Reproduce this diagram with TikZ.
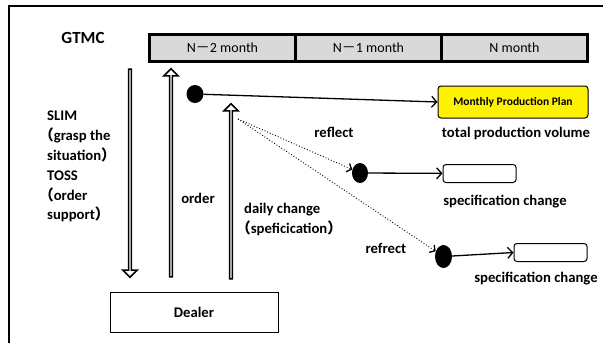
\documentclass[tikz,border=0pt]{standalone}
\usepackage{fontspec}
\setmainfont{Carlito}
\newfontfamily\cjk{Noto Sans CJK JP}
\newcommand{\lpar}{\hspace*{-0.55em}{\cjk （}}
\usetikzlibrary{arrows.meta,shapes.geometric,shapes.arrows}

\begin{document}
\begin{tikzpicture}[x=1pt,y=-1pt,font=\fontsize{14.7}{19.8}\selectfont\bfseries]
        \tikzstyle{month} = [rectangle, draw=black, line width=3pt, fill=gray!30, minimum width=146pt, minimum height=27pt, text centered, font=\fontsize{14}{16}\selectfont\mdseries]
        \tikzstyle{box} = [rectangle, rounded corners=3pt, draw=black, line width=1pt, minimum width=73pt, minimum height=18pt]
        \tikzstyle{dot} = [ellipse, fill=black, inner sep=0pt]
        \tikzstyle{txt} = [inner sep=0pt, anchor=base]
        \tikzstyle{arrow} = [line width=1.3pt, -{Straight Barb[length=5pt,width=11pt]}]
        \tikzstyle{hint} = [line width=0.9pt, dotted, -{Straight Barb[length=4pt,width=9pt,line width=1.3pt]}]
        \tikzstyle{hollow} = [single arrow, draw=black, line width=1.5pt, inner sep=0pt, minimum width=14pt, single arrow head extend=3pt, single arrow head indent=0pt]
        \useasboundingbox (0,0) rectangle (603,343);
        % outer frame
        \draw[line width=2pt] (603,5.5) -- (8.5,5.5) -- (8.5,343);
        \node (gtmc) [txt, font=\fontsize{17}{20}\selectfont\bfseries] at (83,43) {GTMC};
        % months
        \node (n2) [month] at (222.5,47.5) {N{\cjk －}2 month};
        \node (n1) [month] at (368.5,47.5) {N{\cjk －}1 month};
        \node (n0) [month] at (514.5,47.5) {N month};
        \node (sys) [inner sep=0pt, anchor=north west, align=left] at (47,111) {SLIM\\\lpar grasp the\\situation{\cjk ）}\\TOSS\\\lpar order\\support{\cjk ）}};
        \node (dealer) [rectangle, draw=black, line width=1pt, minimum width=168pt, minimum height=40pt] at (194,312) {Dealer};
        % vertical flows
        \node (down) [hollow, minimum height=208pt, shape border rotate=270] at (130,172.5) {};
        \node (up1) [hollow, minimum height=208pt, shape border rotate=90] at (171,173.5) {};
        \node (up2) [hollow, minimum height=175pt, shape border rotate=90] at (231,192) {};
        \node (order) [txt] at (198,203) {order};
        \node (daily) [inner sep=0pt, anchor=north west, align=left] at (244,203) {daily change\\\lpar speficication{\cjk ）}};
        % plan and changes
        \node (dot1) [dot, minimum width=17pt, minimum height=18pt] at (195,94) {};
        \node (plan) [box, fill=yellow, minimum width=150pt, minimum height=32pt, font=\fontsize{11.5}{13}\selectfont\bfseries] at (513,102) {Monthly Production Plan};
        \node (vol) [txt] at (516,137) {total production volume};
        \node (reflect) [txt] at (334,137) {reflect};
        \node (dot2) [dot, minimum width=16pt, minimum height=20pt] at (360,173) {};
        \node (box1) [box] at (479.5,173.5) {};
        \node (spec1) [txt] at (505,205) {specification change};
        \node (refrect) [txt] at (386,253) {refrect};
        \node (dot3) [dot, minimum width=17pt, minimum height=23pt] at (443.5,256.5) {};
        \node (box2) [box] at (550.5,252.5) {};
        \node (spec2) [txt] at (536,282) {specification change};
        \coordinate (src) at (238,119);
        \draw[arrow] (dot1) to (plan.west);
        \draw[arrow] (dot2) to (box1);
        \draw[arrow] (dot3) to (box2.west);
        \draw[hint] (src) to (dot2);
        \draw[hint] (src) to (dot3);
    \end{tikzpicture}
\end{document}
